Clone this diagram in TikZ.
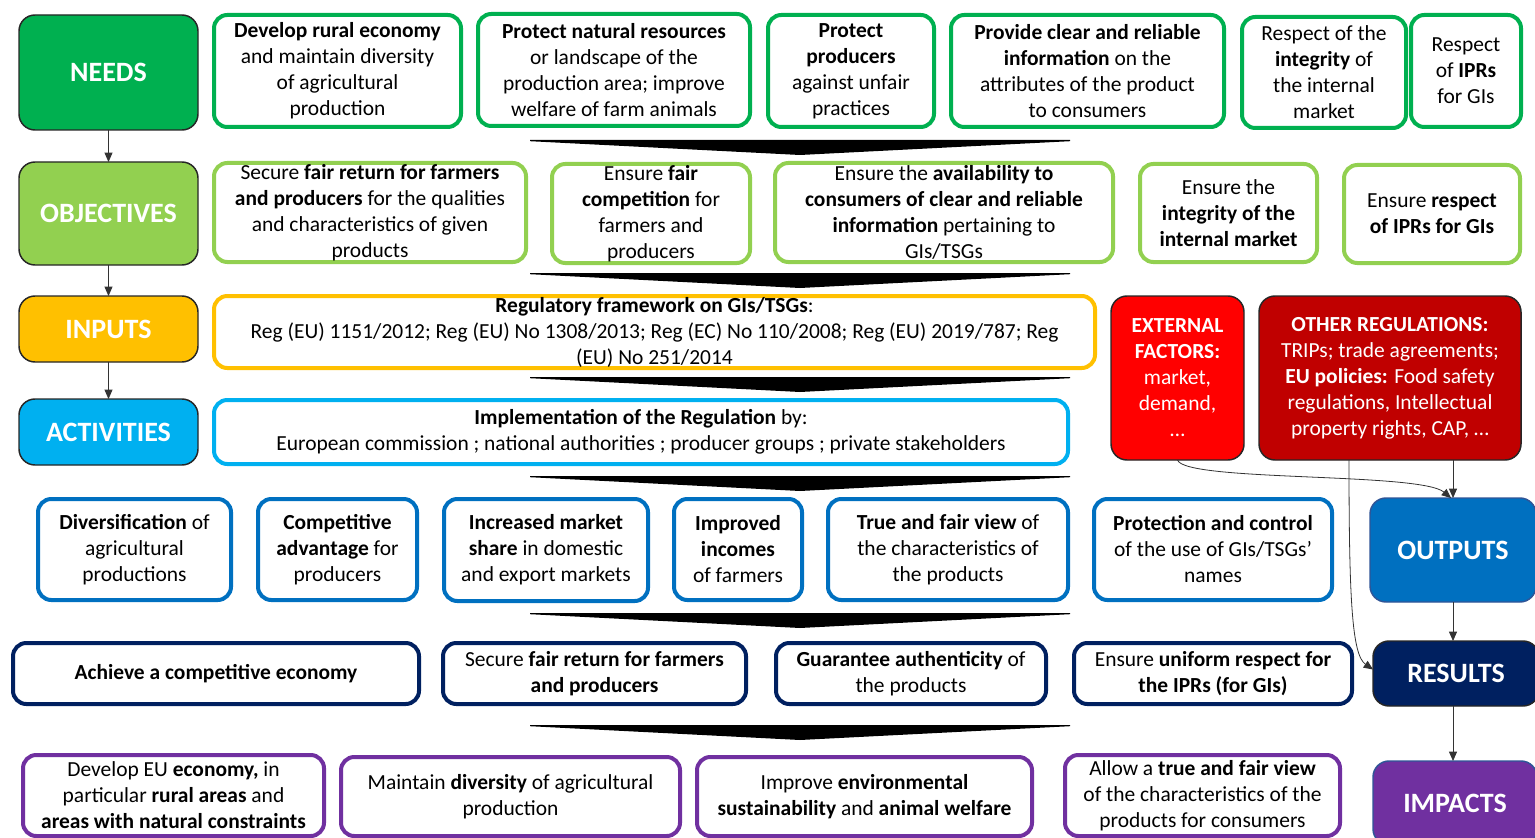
\documentclass[tikz,border=0pt]{standalone}
\usepackage{fontspec}
\setmainfont{Carlito}
\usetikzlibrary{arrows.meta}
\definecolor{cNeed}{HTML}{00B050}
\definecolor{cObj}{HTML}{92D050}
\definecolor{cInp}{HTML}{FFC000}
\definecolor{cAct}{HTML}{00B0F0}
\definecolor{cOut}{HTML}{0070C0}
\definecolor{cRes}{HTML}{002060}
\definecolor{cImp}{HTML}{7030A0}
\definecolor{cExt}{HTML}{FF0000}
\definecolor{cOth}{HTML}{C00000}
\definecolor{cEdge}{HTML}{2F5597}
\tikzset{
 base/.style={inner sep=0pt, outer sep=0pt, align=center, rounded corners=10pt},
 cat/.style={base, rounded corners=12pt, draw=black!85, line width=1.1pt, text=white, font=\fontsize{21}{25}\selectfont\bfseries},
 side/.style={base, rounded corners=12pt, draw=black!85, line width=1.1pt, text=white, font=\fontsize{16.1}{19.5}\selectfont},
 item/.style={base, line width=3pt, fill=white, font=\fontsize{16.1}{19.5}\selectfont},
 conn/.style={line width=0.6pt, draw=black!80, -{Triangle[length=7pt,width=6pt]}},
}
\newcommand\bx[7]{%
 \pgfmathsetmacro\bxw{(#4-#2)*0.75}%
 \pgfmathsetmacro\bxh{(#5-#3)*0.75}%
 \node[#6, minimum width=\bxw pt, minimum height=\bxh pt] (#1) at ({(#2+#4)/2},{(#3+#5)/2}) {#7};}
\newcommand\chevron[1]{\fill[black] (530,#1) -- (1070,#1) -- (1070,#1+1.2) -- (800,#1+15) -- (530,#1+1.2) -- cycle;}
\begin{document}
\begin{tikzpicture}[x=0.75pt,y=-0.75pt]
\useasboundingbox (0,0) rectangle (1535,838);
\clip (0,0) rectangle (1535,838);
% category boxes
\bx{needs}{19}{15}{198}{130}{cat,fill=cNeed}{NEEDS}
\bx{obj}{19}{162}{198}{265}{cat,fill=cObj}{OBJECTIVES}
\bx{inp}{19}{296}{198}{362}{cat,fill=cInp}{INPUTS}
\bx{act}{19}{399}{198}{465}{cat,fill=cAct}{ACTIVITIES}
\bx{outp}{1370}{498}{1536}{602}{cat,fill=cOut,draw=cEdge}{OUTPUTS}
\bx{res}{1373}{641}{1539}{706}{cat,fill=cRes}{RESULTS}
\bx{imp}{1373}{761}{1537}{845}{cat,fill=cImp,draw=cEdge}{IMPACTS}
% needs row
\bx{n1}{214}{15}{461}{127}{item,draw=cNeed}{\textbf{Develop rural economy}\\and maintain diversity\\of agricultural\\production}
\bx{n2}{478}{14}{750}{126}{item,draw=cNeed}{\textbf{Protect natural resources}\\or landscape of the\\production area; improve\\welfare of farm animals}
\bx{n3}{768}{15}{934}{127}{item,draw=cNeed}{\textbf{Protect}\\\textbf{producers}\\against unfair\\practices}
\bx{n4}{951}{15}{1224}{127}{item,draw=cNeed}{\textbf{Provide clear and reliable}\\\textbf{information} on the\\attributes of the product\\to consumers}
\bx{n5}{1242}{17}{1406}{128}{item,draw=cNeed}{Respect of the\\\textbf{integrity} of\\the internal\\market}
\bx{n6}{1411}{15}{1521}{127}{item,draw=cNeed}{Respect\\of \textbf{IPRs}\\for GIs}
% objectives row
\bx{o1}{214}{163}{526}{262}{item,draw=cObj}{Secure \textbf{fair return for farmers}\\\textbf{and producers} for the qualities\\and characteristics of given\\products}
\bx{o2}{552}{164}{750}{263}{item,draw=cObj}{Ensure \textbf{fair}\\\textbf{competition} for\\farmers and\\producers}
\bx{o3}{775}{163}{1113}{262}{item,draw=cObj}{Ensure the \textbf{availability to}\\\textbf{consumers of clear and reliable}\\\textbf{information} pertaining to\\GIs/TSGs}
\bx{o4}{1140}{164}{1317}{262}{item,draw=cObj}{Ensure the\\\textbf{integrity of the}\\\textbf{internal market}}
\bx{o5}{1344}{165}{1520}{263}{item,draw=cObj}{Ensure \textbf{respect}\\\textbf{of IPRs for GIs}}
% inputs / activities
\bx{i0}{214}{296}{1095}{368}{item,draw=cInp}{\textbf{Regulatory framework on GIs/TSGs}:\\Reg (EU) 1151/2012; Reg (EU) No 1308/2013; Reg (EC) No 110/2008; Reg (EU) 2019/787; Reg\\(EU) No 251/2014}
\bx{a0}{214}{400}{1068}{464}{item,draw=cAct}{\textbf{Implementation of the Regulation} by:\\European commission ; national authorities ; producer groups ; private stakeholders}
\bx{ext}{1111}{296}{1244}{460}{side,fill=cExt}{\textbf{EXTERNAL}\\\textbf{FACTORS:}\\market,\\demand,\\…}
\bx{oth}{1259}{296}{1521}{460}{side,fill=cOth}{\textbf{OTHER REGULATIONS:}\\TRIPs; trade agreements;\\\textbf{EU policies:} Food safety\\regulations, Intellectual\\property rights, CAP, …}
% outputs row
\bx{p1}{38}{499}{231}{600}{item,draw=cOut}{\textbf{Diversification} of\\agricultural\\productions}
\bx{p2}{258}{499}{417}{600}{item,draw=cOut}{\textbf{Competitive}\\\textbf{advantage} for\\producers}
\bx{p3}{444}{499}{648}{601}{item,draw=cOut}{\textbf{Increased market}\\\textbf{share} in domestic\\and export markets}
\bx{p4}{674}{499}{802}{600}{item,draw=cOut}{\textbf{Improved}\\\textbf{incomes}\\of farmers}
\bx{p5}{828}{499}{1068}{600}{item,draw=cOut}{\textbf{True and fair view} of\\the characteristics of\\the products}
\bx{p6}{1094}{499}{1332}{600}{item,draw=cOut}{\textbf{Protection and control}\\of the use of GIs/TSGs’\\names}
% results row
\bx{r1}{13}{643}{419}{704}{item,draw=cRes}{\textbf{Achieve a competitive economy}}
\bx{r2}{443}{643}{746}{704}{item,draw=cRes}{Secure \textbf{fair return for farmers}\\\textbf{and producers}}
\bx{r3}{776}{643}{1046}{704}{item,draw=cRes}{\textbf{Guarantee authenticity} of\\the products}
\bx{r4}{1074}{643}{1352}{704}{item,draw=cRes}{Ensure \textbf{uniform respect for}\\\textbf{the IPRs (for GIs)}}
% impacts row
\bx{m1}{23}{755}{324}{836}{item,draw=cImp}{Develop EU \textbf{economy,} in\\particular \textbf{rural areas} and\\\textbf{areas with natural constraints}}
\bx{m2}{341}{757}{680}{836}{item,draw=cImp}{Maintain \textbf{diversity} of agricultural\\production}
\bx{m3}{697}{757}{1032}{836}{item,draw=cImp}{Improve \textbf{environmental}\\\textbf{sustainability} and \textbf{animal welfare}}
\bx{m4}{1065}{755}{1340}{836}{item,draw=cImp}{Allow a \textbf{true and fair view}\\of the characteristics of the\\products for consumers}
% chevrons
\chevron{140}
\chevron{273}
\chevron{377}
\chevron{476}
\chevron{613}
\chevron{725}
% connectors
\draw[conn] (needs) -- (obj);
\draw[conn] (obj) -- (inp);
\draw[conn] (inp) -- (act);
\draw[conn] (ext.south) .. controls (1185,482) and (1420,472) .. ([xshift=-1.5pt]outp.north);
\draw[conn] (outp.north |- oth.south) -- (outp.north);
\draw[conn] ([xshift=-30.75pt]oth.south) .. controls (1349,600) and (1352,655) .. ([yshift=3pt]res.west);
\draw[conn] (outp.south) -- (outp.south |- res.north);
\draw[conn] (outp.south |- res.south) -- (outp.south |- imp.north);
\end{tikzpicture}
\end{document}
